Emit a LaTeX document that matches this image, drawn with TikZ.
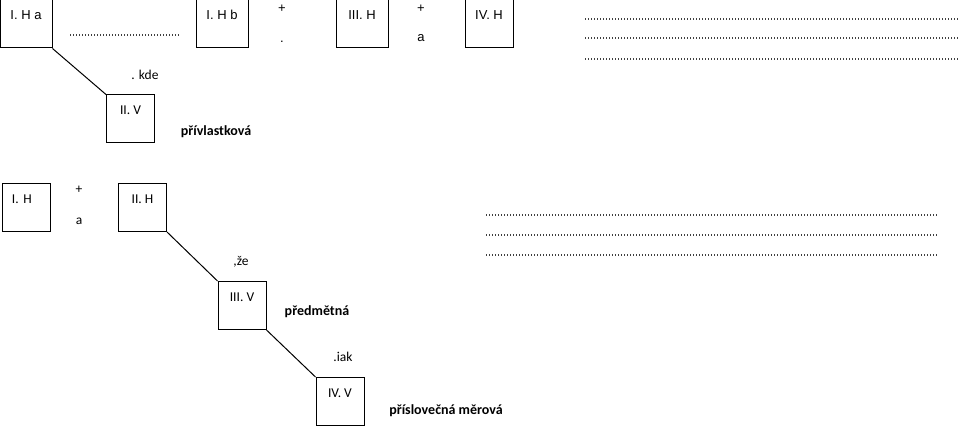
\documentclass[tikz,border=0pt]{standalone}
\usepackage{fontspec}
\setmainfont{Carlito}
\newfontfamily\arialfont{Liberation Sans}
\usetikzlibrary{positioning,calc}

\begin{document}
\begin{tikzpicture}[x=1pt, y=-1pt,
  hbox/.style={draw, line width=1pt, minimum width=48pt, inner ysep=0pt, inner xsep=2pt,
    text height=20pt, text depth=28pt, font=\fontsize{13.5}{16}\selectfont},
  hboxwide/.style={hbox, minimum width=52pt, font=\arialfont\fontsize{13}{15}\selectfont},
  lbl/.style={inner sep=0pt, font=\fontsize{13.5}{16}\selectfont},
  arl/.style={inner sep=0pt, font=\arialfont\fontsize{13}{15}\selectfont},
  kind/.style={inner sep=0pt, font=\bfseries\fontsize{14}{17}\selectfont},
  blank/.style={line width=1.1pt, black!75, dash pattern=on 1pt off 2pt},
  link/.style={line width=1pt}]
\useasboundingbox (0,0) rectangle (960,427);

% Upper sentence
\begin{scope}
  \node[hboxwide] (ha) at (26,24) {I. H a};
  \node[hboxwide] (hb) at (222,24) {I. H b};
  \node[hboxwide] (hiii) at (362,24) {III. H};
  \node[hboxwide, minimum width=48pt] (hiv) at (489,24) {IV. H};
  \node[hbox] (vii) at (130.5,119) {II. V};
  \draw[blank] (70,35) -- (180,35);
  \node[arl] (plusa) at (282,9) {+};
  \node[arl] (dota) at (282,42) {.};
  \node[arl] (plusb) at (421,9) {+};
  \node[arl] (anda) at (421,38) {a};
  \node[lbl] (kde) at (145,75) {. kde};
  \node[kind] (attr) at (216,132) {přívlastková};
  \draw[link] (ha.south east) -- (vii.north west);
  \foreach \y in {19,38,59} {
    \draw[blank] (585,\y) -- (960,\y);
  }
\end{scope}

% Lower sentence
\begin{scope}
  \node[hbox, inner xsep=10pt, text width=28pt, align=left] (bhi) at (26,207.5) {I. H};
  \node[hbox] (bhii) at (142.5,207.5) {II. H};
  \node[hbox] (bviii) at (242,305.5) {III. V};
  \node[hbox] (bviv) at (340,401.5) {IV. V};
  \node[lbl] (plusc) at (79,190) {+};
  \node[lbl] (andb) at (79,221) {a};
  \node[lbl] (ze) at (241,262) {,že};
  \node[lbl] (iak) at (343,357) {.iak};
  \node[kind] (obj) at (317,312) {předmětná};
  \node[kind] (adv) at (446,411) {příslovečná měrová};
  \draw[link] (bhii.south east) -- (bviii.north west);
  \draw[link] (bviii.south east) -- (bviv.north west);
  \foreach \y in {215,235,255} {
    \draw[blank] (486,\y) -- (937,\y);
  }
\end{scope}
\end{tikzpicture}
\end{document}
